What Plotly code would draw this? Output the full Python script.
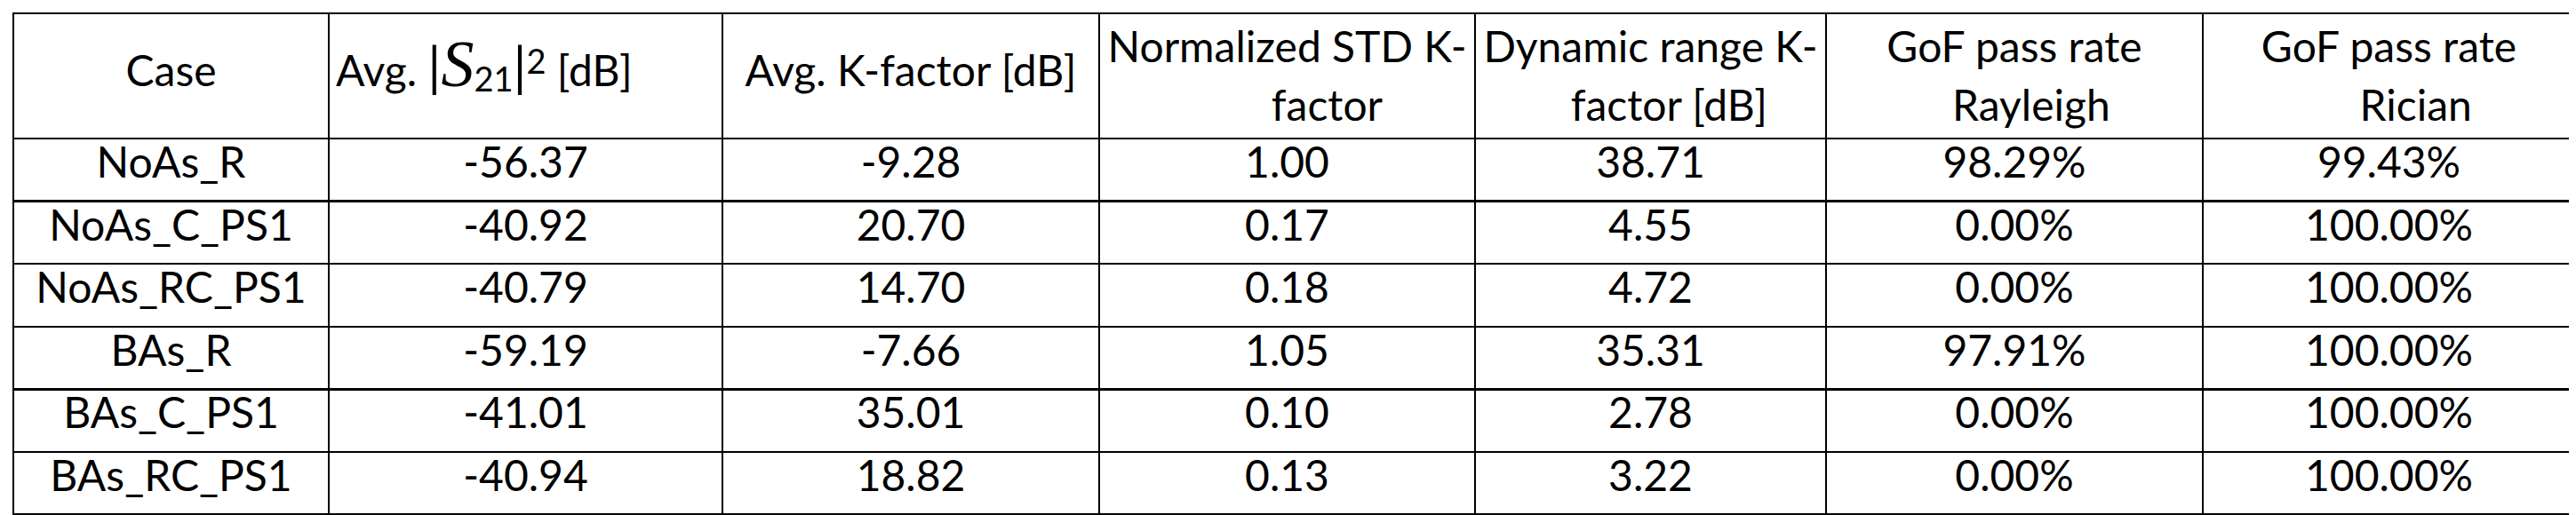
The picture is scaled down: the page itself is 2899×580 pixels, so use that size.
import plotly.graph_objects as go

NBSP = "\u00a0"

# table contents
s21_label = (
    "<span style='font-size:48px'>Avg.\u00a0</span>"
    "<span style='font-size:60px'>|</span>"
    "<span style='font-family:Liberation Serif;font-style:italic;font-size:74px'>S</span>"
    "<sub><span style='font-size:38px'>21</span></sub>"
    "<span style='font-size:60px'>|</span>"
    "<sup><span style='font-size:38px'>2</span></sup>"
    "<span style='font-size:48px'>\u00a0[dB]</span>"
)
header_lines = [
    ["Case"],
    [s21_label],
    ["Avg. K-factor [dB]"],
    ["Normalized STD K-", "factor"],
    ["Dynamic range K-", "factor [dB]"],
    ["GoF pass rate", "Rayleigh"],
    ["GoF pass rate", "Rician"],
]
# nbsp padding to centre the second header line under the first
second_line_pad = [0, 0, 0, 15, 8, 6, 9]

cases = ["NoAs_R", "NoAs_C_PS1", "NoAs_RC_PS1", "BAs_R", "BAs_C_PS1", "BAs_RC_PS1"]
avg_s21 = [-56.37, -40.92, -40.79, -59.19, -41.01, -40.94]
avg_k = [-9.28, 20.70, 14.70, -7.66, 35.01, 18.82]
std_k = [1.00, 0.17, 0.18, 1.05, 0.10, 0.13]
range_k = [38.71, 4.55, 4.72, 35.31, 2.78, 3.22]
gof_rayleigh = [98.29, 0.00, 0.00, 97.91, 0.00, 0.00]
gof_rician = [99.43, 100.00, 100.00, 100.00, 100.00, 100.00]

col_widths = [355, 443, 424, 423, 395, 424, 419]

# base font of each header cell sets its line spacing; visible text is 48px
header_sizes = [32 if len(l) == 1 else 44 for l in header_lines]


def header_text(lines, pad):
    if len(lines) == 1:
        txt = lines[0]
        if not txt.startswith("<span"):
            txt = f"<span style='font-size:48px'>{txt}</span>"
        return NBSP + "<br>" + txt
    return (f"<span style='font-size:48px'>{lines[0]}</span><br>"
            f"<sub><span style='font-size:48px'>{NBSP * pad}{lines[1]}</span></sub>")


header_labels = [header_text(l, p) for l, p in zip(header_lines, second_line_pad)]

cells = [
    cases,
    [f"{v:.2f}" for v in avg_s21],
    [f"{v:.2f}" for v in avg_k],
    [f"{v:.2f}" for v in std_k],
    [f"{v:.2f}" for v in range_k],
    [f"{v:.2f}%" for v in gof_rayleigh],
    [f"{v:.2f}%" for v in gof_rician],
]

fig = go.Figure(go.Table(
    columnwidth=col_widths,
    header=dict(
        values=header_labels,
        height=141,
        align=["center", "left", "center", "center", "center", "center", "center"],
        font=dict(family="Lato, sans-serif", size=header_sizes, color="black"),
        fill_color="white",
        line=dict(color="black", width=2.5),
    ),
    cells=dict(
        values=cells,
        height=70.6,
        align="center",
        font=dict(family="Lato, sans-serif", size=48, color="black"),
        fill_color="white",
        line=dict(color="black", width=2.5),
    ),
))

fig.update_layout(
    width=2899,
    height=580,
    margin=dict(l=7, r=9, t=7, b=0),
    paper_bgcolor="white",
)

fig.write_html("out.html")
